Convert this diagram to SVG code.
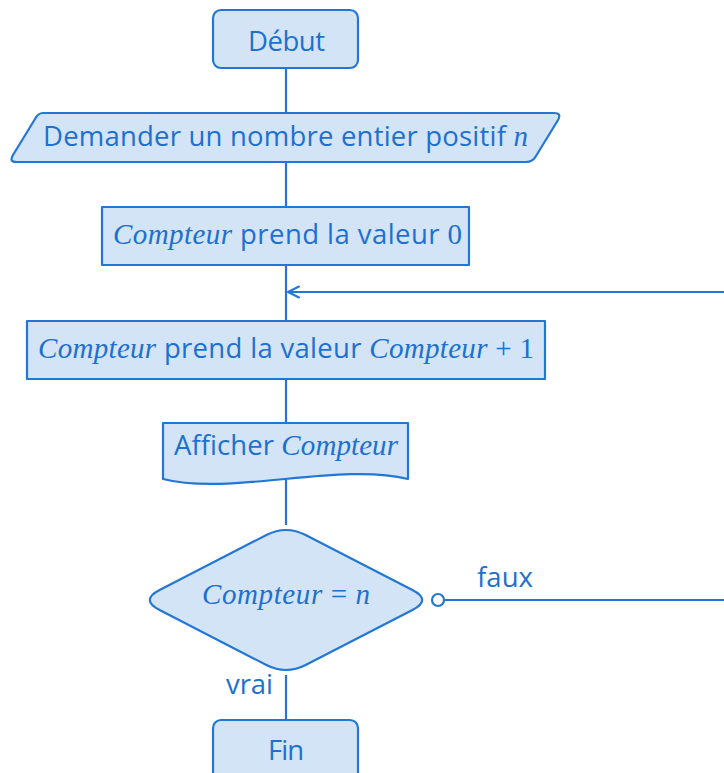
<svg xmlns="http://www.w3.org/2000/svg" width="724" height="773" viewBox="0 0 724 773">
  <defs>
    <style>
      .shape { fill: #d2e4f6; stroke: #2277d6; stroke-width: 2.2; stroke-linejoin: round; }
      .wire { fill: none; stroke: #2277d6; stroke-width: 2.2; }
      .txt { font-family: "Open Sans", "Noto Sans", sans-serif; font-size: 27.5px; fill: #1d70d0; }
      .m { font-family: "Liberation Serif", "DejaVu Serif", serif; font-style: italic; font-size: 29px; }
      .mu { font-family: "Liberation Serif", "DejaVu Serif", serif; font-size: 29px; }
    </style>
    <marker id="open-arrow" markerWidth="14" markerHeight="14" refX="12" refY="7" orient="auto" markerUnits="userSpaceOnUse">
      <path d="M1,1.5 L12,7 L1,12.5" fill="none" stroke="#2277d6" stroke-width="2" stroke-linecap="round" stroke-linejoin="round"/>
    </marker>
  </defs>
  <rect width="724" height="773" fill="#ffffff"/>

  <g id="connectors">
    <line class="wire" x1="286" y1="68" x2="286" y2="113"/>
    <line class="wire" x1="286" y1="162" x2="286" y2="207"/>
    <line class="wire" x1="286" y1="265" x2="286" y2="321"/>
    <line class="wire" x1="286" y1="379" x2="286" y2="423"/>
    <line class="wire" x1="286" y1="479" x2="286" y2="525"/>
    <line class="wire" x1="286" y1="675" x2="286" y2="720"/>
    <line class="wire" x1="444" y1="600" x2="730" y2="600"/>
    <line class="wire" x1="730" y1="292" x2="288" y2="292" marker-end="url(#open-arrow)"/>
    <circle cx="438" cy="600" r="6" fill="#ffffff" stroke="#2277d6" stroke-width="2.2"/>
    <text class="txt" x="477" y="587" textLength="56" lengthAdjust="spacing">faux</text>
    <text class="txt" x="226" y="694" textLength="47" lengthAdjust="spacing">vrai</text>
  </g>

  <g id="start">
    <rect class="shape" x="213" y="10" width="145" height="58" rx="8"/>
    <text class="txt" x="248" y="51" textLength="77" lengthAdjust="spacing">Début</text>
  </g>

  <g id="input">
    <path class="shape" d="M43,113 H554 Q562,113 558,120 L536,156 Q533,162 526,162 H16 Q9,162 13,155 L35,119 Q38,113 43,113 Z"/>
    <text class="txt" x="43" y="146" textLength="485" lengthAdjust="spacing">Demander un nombre entier positif <tspan class="m">n</tspan></text>
  </g>

  <g id="init">
    <rect class="shape" x="102" y="207" width="367" height="58"/>
    <text class="txt" x="113" y="244" textLength="349" lengthAdjust="spacing"><tspan class="m">Compteur</tspan> prend la valeur <tspan class="mu">0</tspan></text>
  </g>

  <g id="increment">
    <rect class="shape" x="27" y="321" width="518" height="58"/>
    <text class="txt" x="38" y="358" textLength="496" lengthAdjust="spacing"><tspan class="m">Compteur</tspan> prend la valeur <tspan class="m">Compteur</tspan><tspan class="mu"> + 1</tspan></text>
  </g>

  <g id="display">
    <path class="shape" d="M163,423 H408 V479 C340,462 230,496 163,479 Z"/>
    <text class="txt" x="174" y="455" textLength="224" lengthAdjust="spacing">Afficher <tspan class="m">Compteur</tspan></text>
  </g>

  <g id="test">
    <path class="shape" d="M266.4,535 Q286,525 305.6,535 L412.4,590 Q432,600 412.4,610 L305.6,665 Q286,675 266.4,665 L159.6,610 Q140,600 159.6,590 Z"/>
    <text class="txt" x="202" y="604" textLength="168" lengthAdjust="spacing"><tspan class="m">Compteur</tspan><tspan class="mu"> = </tspan><tspan class="m">n</tspan></text>
  </g>

  <g id="end">
    <rect class="shape" x="213" y="720" width="145" height="70" rx="8"/>
    <text class="txt" x="268" y="760" textLength="36" lengthAdjust="spacing">Fin</text>
  </g>
</svg>
